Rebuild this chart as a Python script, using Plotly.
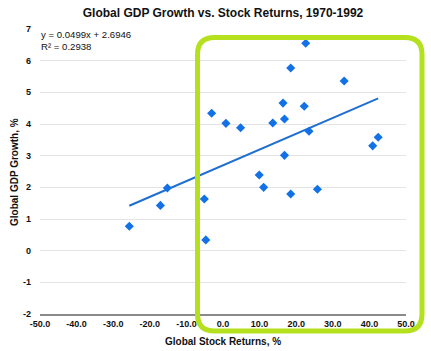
import plotly.graph_objects as go

# ---- data ----
stock_returns = [-25.6, -17.1, -15.2, -5.1, -4.7, -3.1, 0.8, 4.8, 9.9, 11.1, 13.6, 16.4,
                 16.8, 16.8, 18.5, 18.5, 22.2, 22.6, 23.5, 25.8, 33.1, 40.9, 42.4]
gdp_growth = [0.77, 1.43, 1.98, 1.63, 0.34, 4.34, 4.02, 3.88, 2.39, 2.00, 4.03, 4.66,
              4.16, 3.01, 5.77, 1.79, 4.56, 6.55, 3.77, 1.94, 5.36, 3.31, 3.58]
trend_slope = 0.0499
trend_intercept = 2.6946
r_squared = 0.2938
x_ticks = [-50, -40, -30, -20, -10, 0, 10, 20, 30, 40, 50]
y_ticks = [-2, -1, 0, 1, 2, 3, 4, 5, 6, 7]

# ---- layout geometry (pixels) ----
W, H = 431, 351
L, R, T, B = 40, 25, 29, 37
pw, ph = W - L - R, H - T - B

def px(x):
    return (x - L) / pw

def py(y):
    return (H - B - y) / ph

tx = [min(stock_returns), max(stock_returns)]
ty = [trend_slope * v + trend_intercept for v in tx]

blue = "#1271e6"
fig = go.Figure()
fig.add_trace(go.Scatter(x=tx, y=ty, mode="lines",
                         line=dict(color="#1f6fd1", width=2), hoverinfo="skip"))
fig.add_trace(go.Scatter(x=stock_returns, y=gdp_growth, mode="markers",
                         marker=dict(symbol="diamond", size=7, color=blue)))

# rounded green highlight frame
x0, x1, y0, y1, r = 197.5, 422, 37.5, 331, 17
def P(x, y):
    return f"{px(x):.5f},{py(y):.5f}"
path = (f"M {P(x0 + r, y0)} L {P(x1 - r, y0)} Q {P(x1, y0)} {P(x1, y0 + r)} "
        f"L {P(x1, y1 - r)} Q {P(x1, y1)} {P(x1 - r, y1)} "
        f"L {P(x0 + r, y1)} Q {P(x0, y1)} {P(x0, y1 - r)} "
        f"L {P(x0, y0 + r)} Q {P(x0, y0)} {P(x0 + r, y0)} Z")

font = "Liberation Sans, Arial, sans-serif"
fig.update_layout(
    width=W, height=H, margin=dict(l=L, r=R, t=T, b=B),
    paper_bgcolor="white", plot_bgcolor="white", showlegend=False,
    font=dict(family=font, color="#111"),
    title=dict(text="<b>Global GDP Growth vs. Stock Returns, 1970-1992</b>",
               xref="paper", x=0.5, xanchor="center", y=1 - 12.5 / H,
               yanchor="middle",
               font=dict(size=12, family=font, color="#111")),
    xaxis=dict(range=[-50, 50], tickvals=x_ticks,
               ticktext=[f"<b>{v:.1f}</b>" for v in x_ticks],
               showgrid=False, zeroline=False, showline=True,
               linecolor="#8a8a8a", linewidth=1.5, ticks="",
               tickfont=dict(size=9, family=font, color="#111")),
    yaxis=dict(range=[-2, 7], tickvals=y_ticks,
               ticktext=[f"<b>{v}</b>" for v in y_ticks],
               showgrid=True, gridcolor="#e4e4e4", gridwidth=1,
               zeroline=False, showline=False, ticks="",
               ticklabelstandoff=8,
               tickfont=dict(size=9, family=font, color="#111")),
    shapes=[dict(type="path", path=path, xref="paper", yref="paper",
                 line=dict(color="#b4e01e", width=5), fillcolor="rgba(0,0,0,0)",
                 layer="above")],
    annotations=[
        dict(text=f"y = {trend_slope}x + {trend_intercept}<br>R² = {r_squared}",
             xref="paper", yref="paper", x=px(39), y=py(27), xanchor="left",
             yanchor="top", showarrow=False, align="left",
             font=dict(size=9.6, family=font, color="#111")),
        dict(text="<b>Global Stock Returns, %</b>", xref="paper", yref="paper",
             x=px(223), y=py(341.5), xanchor="center", yanchor="middle",
             showarrow=False, font=dict(size=10, family=font, color="#111")),
        dict(text="<b>Global GDP Growth, %</b>", xref="paper", yref="paper",
             x=px(14), y=py(172), xanchor="center", yanchor="middle",
             textangle=-90, showarrow=False,
             font=dict(size=10, family=font, color="#111")),
    ],
)
fig.write_html("out.html")
